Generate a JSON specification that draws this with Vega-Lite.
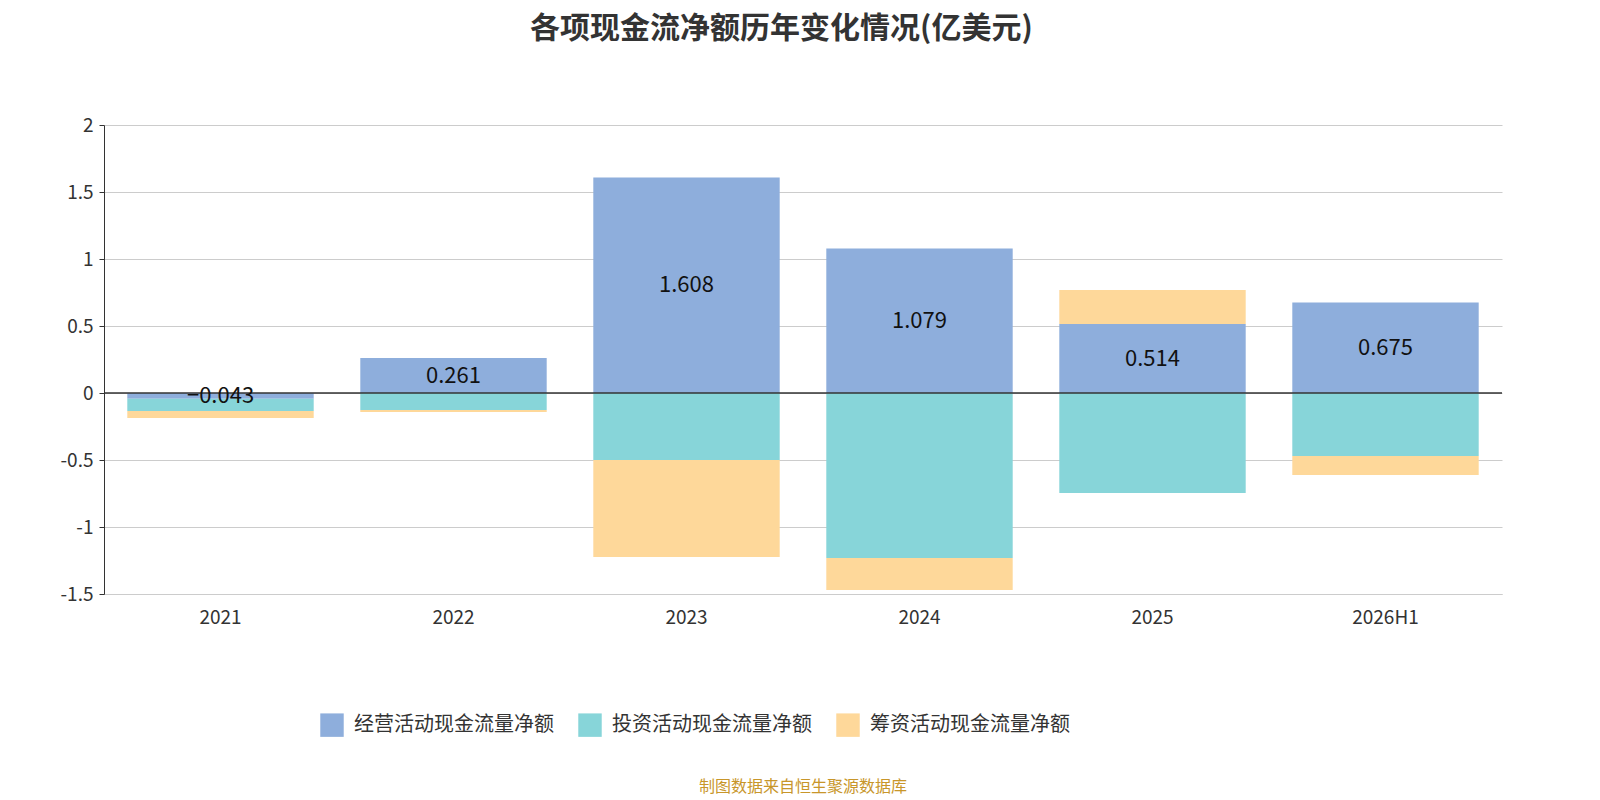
{
  "$schema": "https://vega.github.io/schema/vega-lite/v6.json",
  "background": "white",
  "padding": {"left": 60, "right": 10, "top": 14, "bottom": 5},
  "title": {"text": "各项现金流净额历年变化情况(亿美元)", "fontSize": 30, "font": "Noto Sans CJK SC", "fontWeight": "bold", "color": "#333", "offset": 72, "anchor": "middle"},
  "config": {"view": {"stroke": null}, "font": "Noto Sans CJK SC", "concat": {"spacing": 150}},
  "datasets": {
    "cf": [
      {"year": "2021", "type": "经营活动现金流量净额", "o": 1, "value": -0.043},
      {"year": "2021", "type": "投资活动现金流量净额", "o": 2, "value": -0.091},
      {"year": "2021", "type": "筹资活动现金流量净额", "o": 3, "value": -0.053},
      {"year": "2022", "type": "经营活动现金流量净额", "o": 1, "value": 0.261},
      {"year": "2022", "type": "投资活动现金流量净额", "o": 2, "value": -0.127},
      {"year": "2022", "type": "筹资活动现金流量净额", "o": 3, "value": -0.015},
      {"year": "2023", "type": "经营活动现金流量净额", "o": 1, "value": 1.608},
      {"year": "2023", "type": "投资活动现金流量净额", "o": 2, "value": -0.5},
      {"year": "2023", "type": "筹资活动现金流量净额", "o": 3, "value": -0.724},
      {"year": "2024", "type": "经营活动现金流量净额", "o": 1, "value": 1.079},
      {"year": "2024", "type": "投资活动现金流量净额", "o": 2, "value": -1.231},
      {"year": "2024", "type": "筹资活动现金流量净额", "o": 3, "value": -0.239},
      {"year": "2025", "type": "经营活动现金流量净额", "o": 1, "value": 0.514},
      {"year": "2025", "type": "投资活动现金流量净额", "o": 2, "value": -0.746},
      {"year": "2025", "type": "筹资活动现金流量净额", "o": 3, "value": 0.255},
      {"year": "2026H1", "type": "经营活动现金流量净额", "o": 1, "value": 0.675},
      {"year": "2026H1", "type": "投资活动现金流量净额", "o": 2, "value": -0.47},
      {"year": "2026H1", "type": "筹资活动现金流量净额", "o": 3, "value": -0.142}
    ]
  },
  "vconcat": [
    {
      "width": 1398,
      "height": 469,
      "data": {"name": "cf"},
      "layer": [
        {
          "mark": {"type": "bar"},
          "encoding": {
            "x": {"field": "year", "type": "nominal", "title": null, "sort": null,
                  "scale": {"paddingInner": 0.2, "paddingOuter": 0.1},
                  "axis": {"labelAngle": 0, "labelFontSize": 19, "labelColor": "#333", "ticks": false, "domainColor": "#ccc", "labelPadding": 14, "grid": false}},
            "y": {"field": "value", "type": "quantitative", "stack": "zero", "title": null,
                  "scale": {"domain": [-1.5, 2], "nice": false},
                  "axis": {"values": [-1.5, -1, -0.5, 0, 0.5, 1, 1.5, 2], "labelExpr": "'' + datum.value", "labelFontSize": 19, "labelColor": "#333", "gridColor": "#ccc", "domain": true, "domainColor": "#333", "tickColor": "#333", "labelPadding": 6}},
            "color": {"field": "type", "type": "nominal",
                      "scale": {"domain": ["经营活动现金流量净额", "投资活动现金流量净额", "筹资活动现金流量净额"], "range": ["#8eaedc", "#87d5d9", "#fed89a"]},
                      "legend": {"orient": "none", "legendX": 216, "legendY": 588, "title": null, "direction": "horizontal", "symbolType": "square", "symbolSize": 550, "symbolStrokeWidth": 0, "labelFontSize": 20, "labelColor": "#333", "labelLimit": 0, "columnPadding": 24, "labelOffset": 10}},
            "order": {"field": "o", "type": "quantitative"}
          }
        },
        {
          "data": {"values": [{"z": 0}]},
          "mark": {"type": "rule", "color": "#333", "strokeWidth": 1.5},
          "encoding": {"y": {"field": "z", "type": "quantitative"}}
        },
        {
          "transform": [{"filter": "datum.o == 1"}, {"calculate": "datum.value / 2", "as": "mid"}],
          "mark": {"type": "text", "fontSize": 22, "color": "#111", "baseline": "middle"},
          "encoding": {
            "x": {"field": "year", "type": "nominal", "sort": null},
            "y": {"field": "mid", "type": "quantitative"},
            "text": {"field": "value", "type": "quantitative", "format": ".3~f"}
          }
        }
      ]
    },
    {
      "width": 1398,
      "height": 20,
      "data": {"values": [{"t": "制图数据来自恒生聚源数据库"}]},
      "mark": {"type": "text", "fontSize": 16, "color": "#c8962a", "align": "center"},
      "encoding": {"text": {"field": "t"}}
    }
  ]
}
